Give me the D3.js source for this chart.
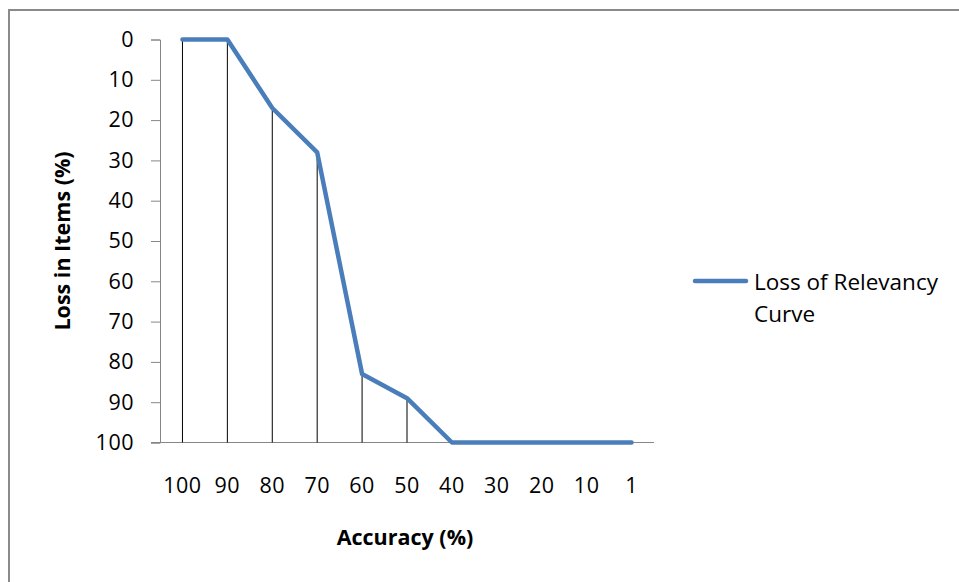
<!DOCTYPE html>
<html>
<head>
<meta charset="utf-8">
<script src="https://cdn.jsdelivr.net/npm/d3@7"></script>
<style>
  html, body { margin: 0; padding: 0; background: #fff; }
  svg { display: block; }
  text { font-family: "Open Sans", sans-serif; fill: #000; }
</style>
</head>
<body>
<svg id="chart" width="959" height="582"></svg>
<script>
const categories = ["100", "90", "80", "70", "60", "50", "40", "30", "20", "10", "1"];
const lossValues = [0, 0, 17, 28, 83, 89, 100, 100, 100, 100, 100];
const yTicks = [0, 10, 20, 30, 40, 50, 60, 70, 80, 90, 100];
const seriesName = ["Loss of Relevancy", "Curve"];
const xTitle = "Accuracy (%)";
const yTitle = "Loss in Items (%)";

const svg = d3.select("#chart");
const W = 959, H = 582;
const FONT = "'Open Sans', sans-serif";

// outer frame (left and top edges visible)
svg.append("path")
  .attr("d", `M9,${H} L9,10 L${W},10`)
  .attr("fill", "none").attr("stroke", "#8a8a8a").attr("stroke-width", 2);

const plot = { left: 160, right: 654, top: 39.5, bottom: 442.5 };

const x = d3.scaleBand().domain(categories).range([plot.left, plot.right]).padding(0);
const y = d3.scaleLinear().domain([0, 100]).range([plot.top, plot.bottom]);

// y axis
const yAxis = d3.axisLeft(y).tickValues(yTicks).tickSize(9).tickPadding(17).tickFormat(d3.format("d"));
const gy = svg.append("g").attr("transform", `translate(${plot.left},0)`).call(yAxis);
gy.select(".domain").attr("stroke", "#868686");
gy.selectAll(".tick line").attr("stroke", "#868686");
gy.selectAll(".tick text").attr("font-size", 21.5).attr("fill", "#000")
  .style("font-family", FONT).style("letter-spacing", "0.5px");

// x axis
const xAxis = d3.axisBottom(x).tickSize(0).tickPadding(35);
const gx = svg.append("g").attr("transform", `translate(0,${plot.bottom})`).call(xAxis);
gx.select(".domain").attr("stroke", "#868686").attr("d", `M${plot.left - 9},0H${plot.right}`);
gx.selectAll(".tick text").attr("font-size", 21.5).attr("fill", "#000")
  .style("font-family", FONT).style("letter-spacing", "0.5px");

// drop lines
const data = categories.map((c, i) => ({ c, v: lossValues[i] }));
const cx = d => x(d.c) + x.bandwidth() / 2;
svg.append("g").selectAll("line").data(data.filter(d => d.v < 100)).join("line")
  .attr("x1", cx).attr("x2", cx)
  .attr("y1", d => y(d.v)).attr("y2", y(100))
  .attr("stroke", "#000").attr("stroke-width", 1);

// series line
const line = d3.line().x(cx).y(d => y(d.v));
svg.append("path").datum(data)
  .attr("d", line)
  .attr("fill", "none").attr("stroke", "#4a7ebb").attr("stroke-width", 4.5)
  .attr("stroke-linejoin", "round").attr("stroke-linecap", "round");

// axis titles
svg.append("text").attr("x", (plot.left + plot.right) / 2 - 2).attr("y", 545)
  .attr("text-anchor", "middle").attr("font-size", 21.5).attr("font-weight", "bold").text(xTitle);
svg.append("text").attr("transform", `translate(70,${(plot.top + plot.bottom) / 2}) rotate(-90)`)
  .attr("text-anchor", "middle").attr("font-size", 21.5).attr("font-weight", "bold").text(yTitle);

// legend
const lg = svg.append("g");
lg.append("line").attr("x1", 695).attr("x2", 746).attr("y1", 281).attr("y2", 281)
  .attr("stroke", "#4a7ebb").attr("stroke-width", 4.5).attr("stroke-linecap", "round");
lg.selectAll("text").data(seriesName).join("text")
  .attr("x", 754).attr("y", (d, i) => 290 + i * 32)
  .attr("font-size", 22.5).attr("fill", "#000").text(d => d);
</script>
</body>
</html>
